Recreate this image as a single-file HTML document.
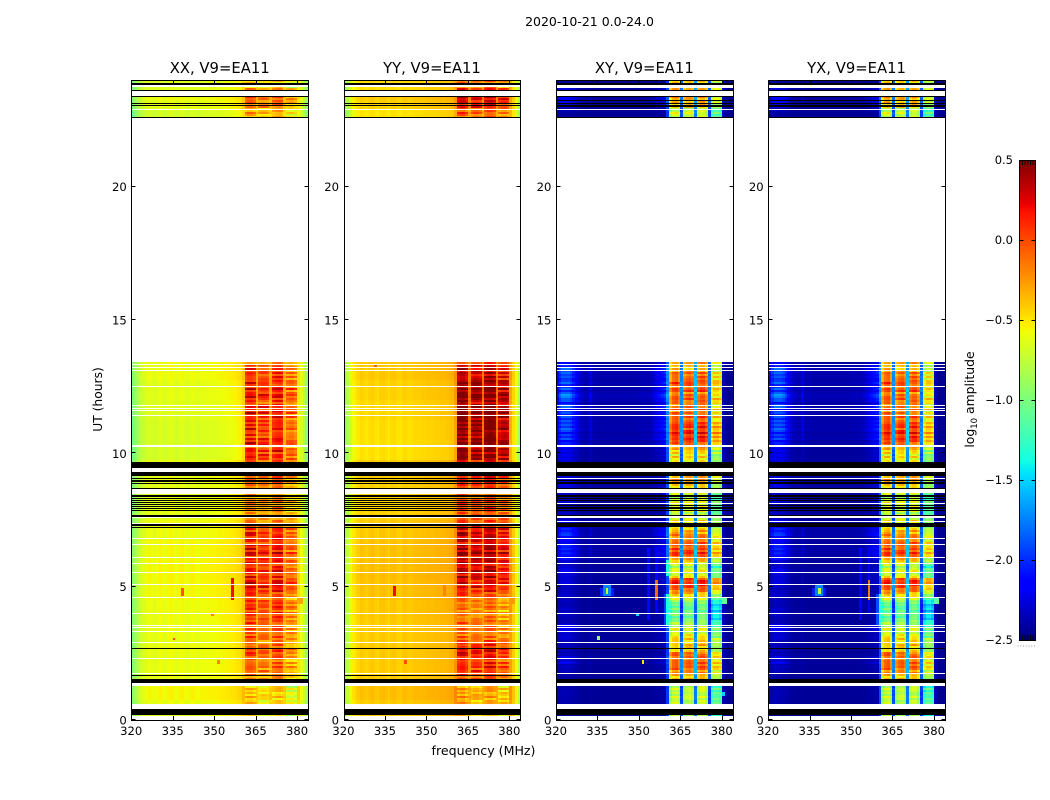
<!DOCTYPE html>
<html><head><meta charset="utf-8"><title>2020-10-21 0.0-24.0</title>
<style>html,body{margin:0;padding:0;background:#fff}svg{display:block;font-family:"DejaVu Sans","Liberation Sans",sans-serif;fill:#000}</style>
</head><body>
<svg id="fig" xmlns="http://www.w3.org/2000/svg" width="1050" height="800" viewBox="0 0 1050 800">
<rect width="1050" height="800" fill="#fff"/>
<text x="589.5" y="26" font-size="12.5" text-anchor="middle">2020-10-21 0.0-24.0</text>
<text x="483.5" y="755" font-size="12.6" text-anchor="middle">frequency (MHz)</text>
<text transform="translate(102 399.5) rotate(-90)" font-size="12.3" text-anchor="middle">UT (hours)</text>
<text transform="translate(974 399.5) rotate(-90)" font-size="12.4" text-anchor="middle">log<tspan dy="3" font-size="8.5">10</tspan><tspan dy="-3"> amplitude</tspan></text>
</svg>
<script>
const panelTitles = ['XX, V9=EA11', 'YY, V9=EA11', 'XY, V9=EA11', 'YX, V9=EA11'];
const freqTicks = [320, 335, 350, 365, 380];
const utTicks = [0, 5, 10, 15, 20];
const cbarTicks = [0.5, 0, -0.5, -1, -1.5, -2, -2.5];
const cbarLabels = ['0.5', '0.0', '\u22120.5', '\u22121.0', '\u22121.5', '\u22122.0', '\u22122.5'];

const xxChannels = [-1.0,-.9,-.8,-.72,-.68,-.65,-.61,-.63,-.66,-.63,
 -.6,-.63,-.65,-.61,-.59,-.62,-.65,-.61,-.59,-.63,
 -.65,-.61,-.6,-.63,-.63,-.61,-.61,-.61,-.6,-.6,
 -.6,-.59,-.58,-.58,-.57,-.56,-.55,-.54,-.52,-.5,
 -.42,.0,.06,.06,.0,-.32,-.08,-.04,-.05,-.08,
 -.32,-.02,.04,.06,.02,-.34,-.2,-.16,-.16,-.24,
 -.5,-.64,-.76,-.9];
const yyChannels = [-.95,-.8,-.65,-.55,-.5,-.47,-.43,-.45,-.47,-.44,
 -.42,-.45,-.47,-.43,-.42,-.44,-.47,-.43,-.42,-.45,
 -.46,-.43,-.42,-.44,-.44,-.42,-.42,-.42,-.41,-.41,
 -.4,-.4,-.4,-.39,-.39,-.38,-.38,-.37,-.36,-.35,
 -.25,.2,.25,.25,.15,-.2,.12,.18,.18,.12,
 -.2,.18,.25,.25,.18,-.2,.05,.12,.12,.05,
 -.3,-.45,-.6,-.8];
const xyChannels = [-2.45,-2.45,-2.45,-2.45,-2.45,-2.45,-2.45,-2.45,-2.45,-2.45,
 -2.45,-2.45,-2.45,-2.45,-2.45,-2.45,-2.45,-2.45,-2.45,-2.45,
 -2.45,-2.45,-2.45,-2.45,-2.45,-2.45,-2.45,-2.45,-2.45,-2.45,
 -2.45,-2.45,-2.45,-2.45,-2.45,-2.45,-2.45,-2.45,-2.45,-2.45,
 -2.0,-.4,-.2,-.15,-.3,-1.75,-.3,-.2,-.15,-.25,
 -1.6,-.25,-.15,-.15,-.3,-1.8,-.7,-.55,-.55,-.65,
 -2.35,-2.45,-2.45,-2.45];
const yxChannels = [-2.45,-2.45,-2.45,-2.45,-2.45,-2.45,-2.45,-2.45,-2.45,-2.45,
 -2.45,-2.45,-2.45,-2.45,-2.45,-2.45,-2.45,-2.45,-2.45,-2.45,
 -2.45,-2.45,-2.45,-2.45,-2.45,-2.45,-2.45,-2.45,-2.45,-2.45,
 -2.45,-2.45,-2.45,-2.45,-2.45,-2.45,-2.45,-2.45,-2.45,-2.45,
 -1.95,-.4,-.2,-.15,-.35,-1.75,-.35,-.22,-.18,-.3,
 -1.6,-.28,-.18,-.18,-.35,-1.8,-.75,-.6,-.6,-.7,
 -2.35,-2.45,-2.45,-2.45];
const bandWeight = [0,0,0,0,0,0,0,0,0,0,0,0,0,0,0,0,0,0,0,0,0,0,0,0,0,0,0,0,0,0,0,0,0,0,0,0,0,0,0,0,0,
 1,1,1,1,.3,1,1,1,1,.3,1,1,1,1,.3,1,1,1,1,0,0,0,0];
const bandIndex = [0,0,0,0,0,0,0,0,0,0,0,0,0,0,0,0,0,0,0,0,0,0,0,0,0,0,0,0,0,0,0,0,0,0,0,0,0,0,0,0,0,
 1,1,1,1,1,2,2,2,2,2,3,3,3,3,3,4,4,4,4,0,0,0,0];
const crossBgWeight = [.5,.8,1,1,1,.9,.7,.5,.3,.2,.15,.15,.35,.15,.15,
 .12,.12,.12,.12,.12,.12,.12,.12,.12,.12,.12,.12,.12,.12,.12,
 .15,.15,.15,.15,.2,.3,.4,.5,.6,.7,.5,
 0,0,0,0,0,0,0,0,0,0,0,0,0,0,0,0,0,0,0,0,0,0,0];

const band1Texture = [.1,-.1,.05,.15,-.12,.08,0,-.15,.12,.02,-.05,.14,-.1,.06,-.02,.1,-.14,.04,.12,-.06,.02,-.12,.1,.06,-.08,.14,-.04,.08,-.12,.02];
const band2Texture = [-.08,.06,-.14,.1,.02,-.1,.14,.04,-.06,-.16,.08,.02,.12,-.08,.1,-.04,-.12,.14,-.02,.06,.12,-.1,-.04,.08,.14,-.14,.02,.1,-.06,.04];
const band3Texture = [.04,.12,-.06,-.14,.1,.06,-.1,.12,.02,.08,-.14,.1,-.04,-.12,.14,.04,.08,-.08,-.16,.12,.02,.1,-.06,.14,-.12,.04,.1,-.02,.06,-.1];
const band4Texture = [-.14,.1,-.2,.06,-.12,.14,-.08,-.18,.1,-.04,.12,-.16,.02,.08,-.14,.1,-.22,.04,-.06,.12,-.18,.06,-.1,.1,-.2,.02,.08,-.12,.04,-.16];

const parallelLow = [-.3,-.3,-.3,-.3,-.3,-.3,-.3,-.3,-.28,-.32,
 -.3,-.25,-.3,-.28,-.32,-.25,-.3,-.35,-.2,-.1,
 -.1,-.15,-.05,-.12,.02,-.1,.05,-.08,.05,-.1,
 -.05,0,.08,.05,.1,.05,-.05,0,-.1,-.05,
 0,.05,-.05,.03,-.05,.05,.02,-.05,.08,0,
 .05,.1,.05,.1,0,.08,.12,.05,.1,.15,
 -.05,.02,.12,.05,.2,.1,.25,.15,.25,.2,
 .1,.18,.05,.12,.2,.1,.15,.05,.2,.12,
 .15,.05,.18,.25,.1,.2,.12,.2,.05,.15,
 .2,.1,.2,.15,.05,.12,0,.05,-.1,-.05,
 -.1,-.05,-.15,-.1,-.2,-.1,-.05,-.15,-.1,-.05,
 -.15,-.2,-.15,-.1,-.3,-.35,-.1,-.05,.05,0,
 -.05,.02,-.1,-.2,0,0,0,0,0,.05,
 .15,.1,.2,.05,.2,.1,.02,.18,.25,.1,
 .2,.05,.15,-.02,.12,.2,.05,.15,.1,.2,
 .05,.2,.08,.25,.18,.05,.2,.1,-.05,.15,
 .1,.2,.25,.12,.05,.25,.1,.05,.2,.08,
 .05,.15,.02,.1,.05,.12,0,.05,-.1,-.05];
const parallelHigh = [-.25,-.25,-.2,-.15,-.2,-.25,-.05,-.05,-.05,-.02,0,0,-.1,-.1,-.1,-.1,-.3,-.3,-.3,-.3];
const yyLowShift = [-.05,-.05,0,0,-.2,-.3,-.15,0,0,0,.02,0,0,.12,.15,.15,.12,.05];
const yyHighShift = [.05,.1,.1,.1];
const parallelBgLow = [.02,.06,.02,.02,.02,.03,.05,.06,.05,.03,0,0,.02,-.05,-.04,-.02,0,.03];
const parallelBgHigh = [-.06,0,.03,-.03];

const crossLow = [-.5,-.5,-.5,-.5,-.5,-.5,-.5,-.5,-.5,-.5,
 -.5,-.45,-.55,-.5,-.55,-.45,-.5,-.6,-.45,-.2,
 -.15,-.25,-.1,0,-.05,.1,.15,.05,.2,.1,
 -.05,.1,.15,.05,-.2,-.35,-.25,-.1,-.3,-.2,
 -.15,-.35,-.3,-.45,-.5,-.35,-.5,-.6,-.55,-.7,
 -.75,-.8,-.7,-.85,-.8,-.75,-.85,-.8,-.7,-.6,
 -.4,-.3,-.2,-.1,.05,.1,.2,.25,.3,.3,
 .2,-.3,-.4,-.5,-.35,-.45,-.55,-.45,-.3,-.2,
 -.1,.1,.2,.25,.15,.2,.05,.1,.2,.05,
 -.05,0,.1,-.15,-.05,-.25,-.3,-.4,-.35,-.2,
 -.4,-.5,-.45,-.55,-.4,-.5,-.35,-.45,-.3,-.4,
 -.5,-.55,-.45,-.4,-.5,-.5,-.3,-.2,-.1,-.05,
 0,-.1,-.2,0,0,0,0,-.05,-.25,-.3,
 -.35,-.2,-.4,-.15,-.3,-.1,-.05,.05,.15,.2,
 .25,.3,.2,.35,.25,.15,.3,.2,.25,.1,
 .05,.2,.05,.1,-.05,.15,.05,0,.05,.1,
 .2,.05,.1,-.05,.2,.15,.05,.1,.25,.1,
 .05,.15,0,.1,-.1,-.15,-.2,-.2,0,0];
const crossHigh = [-.5,-.5,-.45,-.4,-.5,-.55,-.2,-.15,-.1,-.15,-.1,-.05,-.2,-.2,-.15,-.1,-.15,-.15,-.2,-.2];
const crossBgLow = [.1,.1,.3,.35,.25,.1,.15,.3,.1,
 .15,.2,.35,.1,.15,.1,.15,.1,.15,
 .2,.15,.3,.35,.25,.4,.35,.25,.2,
 .3,.25,.35,.2,.2,.2,.2,.3,.45,
 .5,.45,.4,.5,.55,.45,.5,.6,.5];
const crossBgHigh = [.1,.3,.4,.35,.1];

const parallelBlank = [[23.81,23.73],[23.59,23.4],[22.9,22.875],[22.59,13.43],[13.35,13.31],[13.24,13.2],[13.11,13.07],[12.52,12.49],[11.8,11.77],[11.69,11.65],[11.63,11.6],[11.43,11.4],[10.3,10.25],[9.46,9.3],[8.67,8.6],[8.57,8.475],[7.62,7.57],[7.4,7.37],[6.82,6.79],[6.59,6.57],[6.11,6.08],[5.88,5.86],[5.55,5.52],[5.1,5.07],[4.61,4.58],[4.01,3.98],[3.56,3.54],[3.48,3.46],[3.34,3.31],[2.93,2.9],[2.33,2.3],[1.76,1.74],[1.375,1.275],[.61,.41],[.15,0]];
const parallelFlag = [[23.8875,23.82],[23.625,23.59],[23.4,23.35],[23.14,23.11],[23.05,23.03],[22.61,22.59],[9.675,9.46],[9.3,9.15],[9.07,9.05],[9.01,8.99],[8.95,8.93],[8.87,8.85],[8.71,8.67],[8.45,8.35],[8.31,8.29],[8.24,8.22],[8.17,8.15],[8.09,8.07],[8.01,7.99],[7.94,7.92],[7.87,7.85],[7.68,7.62],[7.36,7.275],[7.25,7.23],[2.69,2.67],[1.69,1.67],[1.54,1.375],[.41,.19]];
const crossBlank = [[23.82,23.7],[23.59,23.4],[22.91,22.875],[22.59,13.43],[13.35,13.31],[13.24,13.2],[13.11,13.07],[12.52,12.49],[11.8,11.77],[11.69,11.65],[11.63,11.6],[11.43,11.4],[10.3,10.25],[9.46,9.3],[9.08,9.05],[8.67,8.6],[8.57,8.5],[8.12,8.1],[7.64,7.57],[7.46,7.42],[6.82,6.79],[6.59,6.57],[6.11,6.08],[5.88,5.86],[5.55,5.52],[5.1,5.07],[4.61,4.58],[4.01,3.98],[3.56,3.54],[3.48,3.46],[3.34,3.31],[2.93,2.9],[2.33,2.3],[1.76,1.74],[1.375,1.275],[.61,.41],[.15,0]];
const crossFlag = [[23.87,23.82],[23.625,23.59],[23.4,23.35],[23.25,23.23],[23.14,23.11],[23.08,23.05],[23.01,22.99],[22.61,22.56],[9.675,9.46],[9.3,9.15],[9.0,8.98],[8.93,8.91],[8.87,8.85],[8.71,8.67],[8.43,8.35],[8.31,8.29],[8.24,8.22],[8.05,8.03],[8.0,7.98],[7.94,7.92],[7.87,7.85],[7.68,7.64],[7.38,7.23],[2.69,2.67],[1.54,1.375],[.41,.19]];

const xxPatches = [[4.7,4.95,338.2,338.8,-.05],[4.5,5.3,356.2,356.8,.2],[3,3.03,335.2,335.8,0],[3.9,3.93,349.2,349.8,-.2],[2.15,2.18,351.2,351.8,-.2],[4.42,4.52,380.2,381.8,-.3]];
const yyPatches = [[4.65,4.98,338.2,338.8,.2],[4.7,5.1,356.2,356.8,-.2],[2.1,2.2,342.2,342.8,0],[13.25,13.28,331.2,331.8,-.05],[4.42,4.52,380.2,381.8,-.25]];
const xyPatches = [[4.72,4.95,336.2,340.8,-2.05],[4.65,5.03,337.2,339.8,-1.75],[4.78,4.92,338.2,338.8,-.7],[3.8,6.4,353.2,353.8,-2.1],[4,6.4,356.2,356.8,-2.15],[4.5,5.25,356.2,356.8,-.1],[3.56,4.65,360.2,360.8,-1.35],[3.56,4.65,359.2,359.8,-1.95],[5.4,6,360.2,360.8,-1.35],[4.42,4.52,380.2,381.8,-1.1],[3.05,3.08,335.2,335.8,-.9],[2.15,2.18,351.2,351.8,-.5],[3.9,3.93,349.2,349.8,-1.5],[.95,1.0,380.2,380.8,-1.5]];
const yxPatches = [[4.72,4.95,336.2,340.8,-2.05],[4.65,5.03,337.2,339.8,-1.75],[4.78,4.92,338.2,338.8,-.75],[3.8,6.4,353.2,353.8,-2.15],[4,6.4,356.2,356.8,-2.2],[4.5,5.25,356.2,356.8,-.15],[3.56,4.65,360.2,360.8,-1.3],[3.56,4.65,359.2,359.8,-1.9],[5.4,6,360.2,360.8,-1.35],[4.42,4.52,380.2,381.8,-1.15]];

const NS = 'http://www.w3.org/2000/svg';
const fig = document.getElementById('fig');
const panelLeft = [131.25, 343.5, 555.9, 768.1];
const panelWidth = 176.9;
const plotTop = 80, plotBottom = 720;
const freqMin = 320, freqMax = 384, utMin = 0, utMax = 24;
const rowStep = 0.075;
const vMin = -2.5, vMax = 0.5;
const bandTextures = [null, band1Texture, band2Texture, band3Texture, band4Texture];

function xScale(p, f) { return panelLeft[p] + (f - freqMin) / (freqMax - freqMin) * panelWidth; }
function yScale(u) { return plotBottom - (u - utMin) / (utMax - utMin) * (plotBottom - plotTop); }
function cbarY(v) { return 640 - (v - vMin) / (vMax - vMin) * 480; }
function clamp(a) { return Math.max(0, Math.min(1, a)); }
function jet(v) {
  const f = clamp((v - vMin) / (vMax - vMin));
  const r = f < .35 ? 0 : f < .66 ? (f - .35) / .31 : f < .89 ? 1 : 1 - .5 * (f - .89) / .11;
  const g = f < .125 ? 0 : f < .375 ? (f - .125) / .25 : f < .64 ? 1 : f < .91 ? 1 - (f - .64) / .27 : 0;
  const b = f < .11 ? .5 + .5 * f / .11 : f < .34 ? 1 : f < .65 ? 1 - (f - .34) / .31 : 0;
  return 'rgb(' + Math.round(r * 255) + ',' + Math.round(g * 255) + ',' + Math.round(b * 255) + ')';
}
function mk(tag, attrs, parent) {
  const el = document.createElementNS(NS, tag);
  for (const k in attrs) el.setAttribute(k, attrs[k]);
  parent.appendChild(el);
  return el;
}
function texture(c, i) {
  const t = bandTextures[bandIndex[c]];
  return t ? t[i % t.length] : 0;
}

function parallelValue(p, c, seg, i) {
  const ch = p === 0 ? xxChannels : yyChannels;
  const lev = seg === 0 ? parallelLow[i] : parallelHigh[i];
  const shift = p === 0 ? 0 : (seg === 0 ? yyLowShift[Math.floor(i / 10)] : yyHighShift[Math.floor(i / 5)]);
  const bg = seg === 0 ? parallelBgLow[Math.floor(i / 10)] : parallelBgHigh[Math.floor(i / 5)];
  const w = bandWeight[c];
  return ch[c] + w * (1.3 * (lev + shift) - .08 + texture(c, i)) + (1 - w) * bg;
}
function crossValue(p, c, seg, i) {
  const ch = p === 2 ? xyChannels : yxChannels;
  const lev = seg === 0 ? crossLow[i] : crossHigh[i];
  const bg = seg === 0 ? crossBgLow[Math.floor(i / 4)] : crossBgHigh[Math.floor(i / 4)];
  const rowTex = seg === 0 ? parallelLow[i] : parallelHigh[i];
  return ch[c] + bandWeight[c] * (1.1 * lev + .8 * texture(c, i)) + crossBgWeight[c] * bg * Math.max(.25, .8 + 2.5 * rowTex);
}

function drawPanel(p) {
  const g = mk('g', {'shape-rendering': 'crispEdges'}, fig);
  
  
  const patches = [xxPatches, yyPatches, xyPatches, yxPatches][p];
  const valueFn = p < 2 ? parallelValue : crossValue;
  const segments = [[0, parallelLow.length], [22.5, parallelHigh.length]];
  const xl = Math.round(xScale(p, freqMin));
  const xr = Math.round(xScale(p, freqMax));
  segments.forEach(function (s, seg) {
    for (let i = 0; i < s[1]; i++) {
      const u0 = s[0] + i * rowStep;
      const y1 = Math.round(yScale(u0)), y0 = Math.round(yScale(u0 + rowStep));
      for (let c = 0; c < 64; c++) {
        const f = freqMin + c;
        let v = valueFn(p, c, seg, i);
        for (let k = 0; k < patches.length; k++) {
          const q = patches[k];
          if (u0 + rowStep > q[0] && u0 < q[1] && f + 1 > q[2] && f < q[3]) v = q[4];
        }
        const x0 = Math.round(xScale(p, f)), x1 = Math.round(xScale(p, f + 1));
        const cell = document.createElementNS(NS, 'rect');
        cell.setAttribute('x', x0);
        cell.setAttribute('y', y0);
        cell.setAttribute('width', x1 - x0);
        cell.setAttribute('height', y1 - y0);
        cell.setAttribute('fill', jet(v));
        
        
        g.appendChild(cell);
      }
    }
  });
  const blanks = p < 2 ? parallelBlank : crossBlank;
  const flags = p < 2 ? parallelFlag : crossFlag;
  blanks.forEach(function (b) {
    const y0 = Math.round(yScale(b[0]));
    const r = mk('rect', {x: xl, y: y0, width: xr - xl, height: Math.max(1, Math.round(yScale(b[1])) - y0), fill: '#fff'}, g);
    
    
  });
  flags.forEach(function (b) {
    const y0 = Math.round(yScale(b[0]));
    const r = mk('rect', {x: xl, y: y0, width: xr - xl, height: Math.max(1, Math.round(yScale(b[1])) - y0), fill: '#000'}, g);
    
    
  });

  const frame = mk('rect', {x: xl + .5, y: plotTop + .5, width: xr - xl, height: plotBottom - plotTop, fill: 'none', stroke: '#000', 'stroke-width': 1}, fig);
  
  

  freqTicks.forEach(function (t) {
    const x = Math.round(xScale(p, t)) + .5;
    const a = mk('path', {d: 'M' + x + ' ' + plotBottom + 'v-4M' + x + ' ' + plotTop + 'v4', stroke: '#000', 'stroke-width': 1, fill: 'none'}, fig);
    
    
    const l = mk('text', {x: xScale(p, t), y: 735, 'font-size': 11.6, 'text-anchor': 'middle'}, fig);
    l.textContent = t;
    
    
  });
  utTicks.forEach(function (t) {
    const y = Math.round(yScale(t)) - .5;
    const a = mk('path', {d: 'M' + (xl + .5) + ' ' + y + 'h4M' + (xr + .5) + ' ' + y + 'h-4', stroke: '#000', 'stroke-width': 1, fill: 'none'}, fig);
    
    
    const l = mk('text', {x: xScale(p, freqMin) - 4.5, y: yScale(t) + 4.5, 'font-size': 11.6, 'text-anchor': 'end'}, fig);
    l.textContent = t;
    
    
  });
  const title = mk('text', {x: xScale(p, freqMin) + panelWidth / 2, y: 73, 'font-size': 14.8, 'text-anchor': 'middle'}, fig);
  title.textContent = panelTitles[p];
  
  
}

function drawColorbar() {
  const g = mk('g', {'shape-rendering': 'crispEdges'}, fig);
  
  
  const cbLeft = 1019, cbW = 16, steps = 240;
  for (let i = 0; i < steps; i++) {
    const v = vMin + (vMax - vMin) * (i + .5) / steps;
    const s = mk('rect', {x: cbLeft, y: 640 - (i + 1) * 2, width: cbW, height: 2, fill: jet(v)}, g);
    
    
  }
  const box = mk('rect', {x: cbLeft + .5, y: 160.5, width: cbW, height: 480, fill: 'none', stroke: '#000'}, fig);
  
  
  cbarTicks.forEach(function (t, k) {
    const y = Math.round(cbarY(t)) + .5;
    const a = mk('path', {d: 'M' + (cbLeft + .5) + ' ' + y + 'h4M' + (cbLeft + cbW + .5) + ' ' + y + 'h-4', stroke: '#000', fill: 'none'}, fig);
    
    
    const l = mk('text', {x: 1013, y: cbarY(t) + 4, 'font-size': 11.5, 'text-anchor': 'end'}, fig);
    l.textContent = cbarLabels[k];
    
    
  });
  for (let j = 0; j < 5; j++) {
    const x = 1022.5 + j * 2.65;
    const a = mk('path', {d: 'M' + x + ' 160v5M' + x + ' 640v-5', stroke: '#000', 'stroke-width': .9, fill: 'none'}, fig);
    
    
  }
  for (let j = 0; j < 7; j++) {
    const d = mk('rect', {x: 1017.5 + j * 2.75, y: 645.5, width: 1, height: 1, fill: '#999'}, fig);
    
    
  }
}

for (let p = 0; p < 4; p++) drawPanel(p);
drawColorbar();
</script>
</body></html>
